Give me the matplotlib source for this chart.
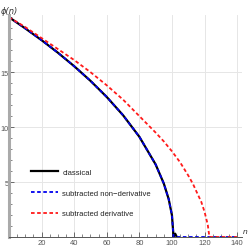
import matplotlib
matplotlib.use("Agg")
import matplotlib.pyplot as plt
from matplotlib.ticker import MultipleLocator

plt.rcParams['font.family'] = ['Liberation Sans Narrow', 'Liberation Sans', 'DejaVu Sans']

# values
n_classical = [0, 10, 20, 30, 40, 50, 60, 70, 80, 90, 95, 98, 100, 101, 102, 103]
phi_classical = [20.0, 18.98, 17.91, 16.77, 15.54, 14.21, 12.74, 11.08, 9.12, 6.6, 4.87, 3.45, 1.99, 0.0, 0.3, 0.0]

n_nonderiv = [0, 10, 20, 30, 40, 50, 60, 70, 80, 90, 95, 98, 100, 101, 140]
phi_nonderiv = [20.0, 18.98, 17.91, 16.77, 15.54, 14.21, 12.74, 11.08, 9.12, 6.6, 4.87, 3.45, 1.99, 0.0, 0.0]

n_deriv = [0, 10, 20, 30, 40, 50, 60, 70, 80, 90, 95, 100, 105, 110, 113, 115, 118, 120, 122, 123, 140]
phi_deriv = [20.0, 19.1, 18.1, 17.1, 16.1, 15.0, 13.8, 12.5, 11.0, 9.5, 8.7, 7.8, 6.8, 5.6, 4.8, 4.15, 3.2, 2.3, 1.1, 0.0, 0.0]

labels = ['classical', 'subtracted non\u2212derivative', 'subtracted derivative']

fig = plt.figure(figsize=(2.51, 2.51), dpi=100)
ax = fig.add_axes([9 / 251, 13 / 251, 233 / 251, 222 / 251])

ax.plot(n_classical, phi_classical, color='black', lw=1.6, label=labels[0])
ax.plot(n_nonderiv, phi_nonderiv, color='#0000ee', lw=1.3, dashes=(2.0, 1.4), label=labels[1])
ax.plot(n_deriv, phi_deriv, color='#ff1a1a', lw=1.3, dashes=(2.0, 1.4), label=labels[2])

ax.set_xlim(0, 143)
ax.set_ylim(0, 20.2)

ax.xaxis.set_minor_locator(MultipleLocator(5))
ax.yaxis.set_minor_locator(MultipleLocator(1))
ax.set_xticks([20, 40, 60, 80, 100, 120, 140])
ax.set_yticks([5, 10, 15])
ax.tick_params(which='both', direction='in', colors='#555555', labelsize=5.5)
ax.tick_params(axis='x', pad=1.5)
ax.tick_params(axis='y', pad=0.5, labelsize=5.2)
ax.tick_params(which='major', length=3.5, width=0.6)
ax.tick_params(which='minor', length=2, width=0.5)

ax.grid(True, which='major', color='#e6e6e6', lw=0.7)
ax.set_axisbelow(True)

for s in ['top', 'right']:
    ax.spines[s].set_visible(False)
ax.spines['left'].set_color('#aaaaaa')
ax.spines['left'].set_linewidth(2.2)
ax.spines['bottom'].set_color('#555555')
ax.spines['bottom'].set_linewidth(0.7)

fig.text(1 / 251, 1 - 11 / 251, '\u03d5(n)', fontsize=6, color='#333333',
         family=['DejaVu Sans'], style='italic', va='center')
fig.text(243 / 251, 1 - 233 / 251, 'n', fontsize=6, color='#333333',
         style='italic', va='center')

ax.legend(loc='lower left', bbox_to_anchor=(0.065, 0.057), frameon=False,
          fontsize=5.5, handlelength=3.5, handletextpad=0.6, labelspacing=1.75,
          labelcolor='#222222')

fig.savefig('out.png', dpi=100)
